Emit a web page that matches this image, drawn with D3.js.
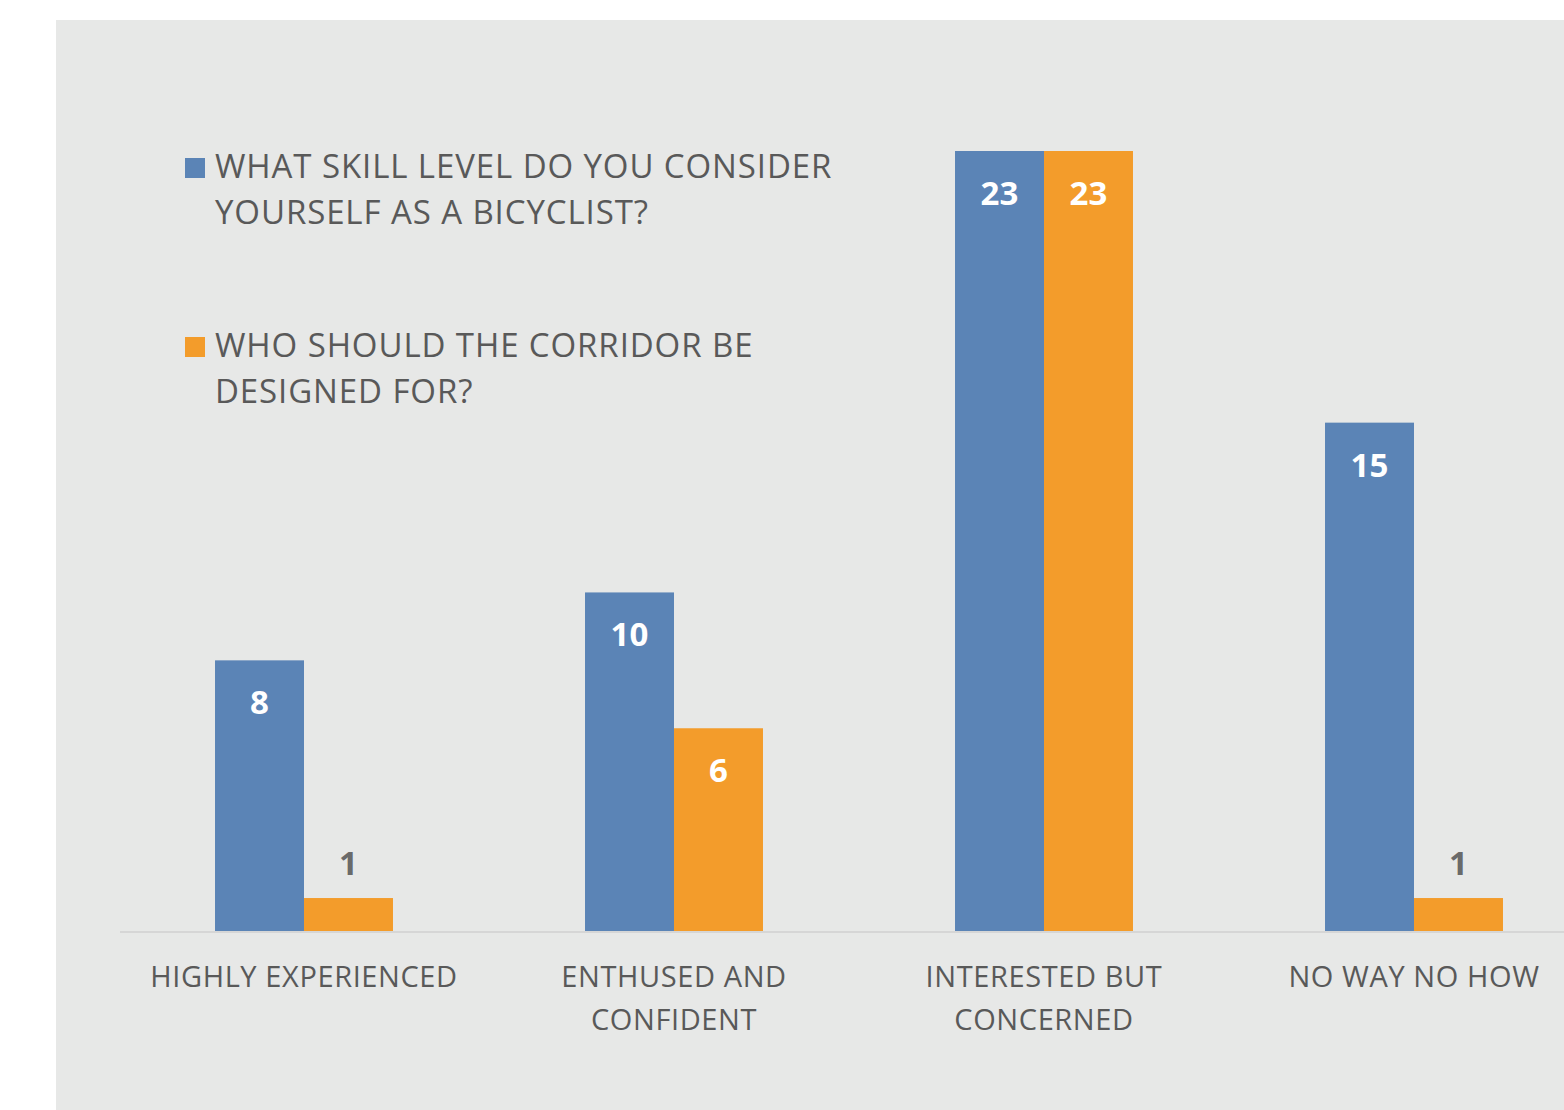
<!DOCTYPE html>
<html>
<head>
<meta charset="utf-8">
<script src="https://cdn.jsdelivr.net/npm/d3@7"></script>
<style>
  html, body { margin: 0; padding: 0; background: #ffffff; }
  svg { display: block; }
  text { font-family: "Open Sans", "Noto Sans", sans-serif; }
</style>
</head>
<body>
<svg id="chart" width="1564" height="1110"></svg>
<script>
// Survey responses per rider type
const categories = ["HIGHLY EXPERIENCED", "ENTHUSED AND CONFIDENT", "INTERESTED BUT CONCERNED", "NO WAY NO HOW"];
const categoryLines = [["HIGHLY EXPERIENCED"], ["ENTHUSED AND", "CONFIDENT"], ["INTERESTED BUT", "CONCERNED"], ["NO WAY NO HOW"]];
const seriesNames = ["skill", "design"];
const legendLines = [
  ["WHAT SKILL LEVEL DO YOU CONSIDER", "YOURSELF AS A BICYCLIST?"],
  ["WHO SHOULD THE CORRIDOR BE", "DESIGNED FOR?"]
];
const skillValues = [8, 10, 23, 15];
const designValues = [1, 6, 23, 1];

const colors = { skill: "#5b84b6", design: "#f39c2b" };

const svg = d3.select("#chart");

// Panel background
svg.append("rect")
  .attr("x", 56).attr("y", 20)
  .attr("width", 1564 - 56).attr("height", 1110 - 20)
  .attr("fill", "#e7e8e7");

const baseY = 932;
const x0 = d3.scaleBand().domain(categories).range([119, 1599])
  .paddingInner(0.519).paddingOuter(0.2595);
const x1 = d3.scaleBand().domain(seriesNames).range([0, x0.bandwidth()]).padding(0);
const y = d3.scaleLinear().domain([0, 23]).range([baseY, 151]);

const rows = categories.map((c, i) => ({
  cat: c,
  values: [
    { key: "skill", value: skillValues[i] },
    { key: "design", value: designValues[i] }
  ]
}));

const groups = svg.append("g").selectAll("g").data(rows).join("g")
  .attr("transform", d => `translate(${x0(d.cat)},0)`);

groups.selectAll("rect").data(d => d.values).join("rect")
  .attr("x", d => x1(d.key))
  .attr("y", d => y(d.value))
  .attr("width", x1.bandwidth())
  .attr("height", d => baseY - y(d.value))
  .attr("fill", d => colors[d.key]);

// Value labels: inside tall bars, above short ones
groups.selectAll("text.val").data(d => d.values).join("text")
  .attr("class", "val")
  .attr("x", d => x1(d.key) + x1.bandwidth() / 2)
  .attr("y", d => (baseY - y(d.value) > 80) ? y(d.value) + 54 : y(d.value) - 23)
  .attr("text-anchor", "middle")
  .attr("font-size", 33)
  .attr("font-weight", 700)
  .attr("fill", d => (baseY - y(d.value) > 80) ? "#ffffff" : "#6a6a6a")
  .text(d => d.value);

// Baseline axis
const xAxis = d3.axisBottom(x0).tickSize(0).tickFormat("");
const axisG = svg.append("g").attr("transform", `translate(0,${baseY})`).call(xAxis);
axisG.select(".domain").attr("stroke", "#d6d6d6").attr("stroke-width", 2)
  .attr("d", "M120,0H1564");

// Category labels
const catLabels = svg.append("g").selectAll("text").data(rows).join("text")
  .attr("x", d => x0(d.cat) + x0.bandwidth() / 2)
  .attr("y", 987)
  .attr("text-anchor", "middle")
  .attr("font-size", 29)
  .attr("fill", "#595959")
  .attr("letter-spacing", 0.6);
catLabels.selectAll("tspan").data((d, i) => categoryLines[i]).join("tspan")
  .attr("x", function () { return d3.select(this.parentNode).attr("x"); })
  .attr("dy", (d, i) => i === 0 ? 0 : 43)
  .text(d => d);

// Legend
const legendTop = [158, 337];
const legend = svg.append("g").selectAll("g").data(seriesNames).join("g");
legend.append("rect")
  .attr("x", 185).attr("y", (d, i) => legendTop[i])
  .attr("width", 20).attr("height", 20)
  .attr("fill", d => colors[d]);
const legText = legend.append("text")
  .attr("x", 215)
  .attr("y", (d, i) => legendTop[i] + 20)
  .attr("font-size", 33)
  .attr("fill", "#595959")
  .attr("letter-spacing", 0.9);
legText.selectAll("tspan").data((d, i) => legendLines[i]).join("tspan")
  .attr("x", 215)
  .attr("dy", (d, i) => i === 0 ? 0 : 46)
  .text(d => d);
</script>
</body>
</html>
